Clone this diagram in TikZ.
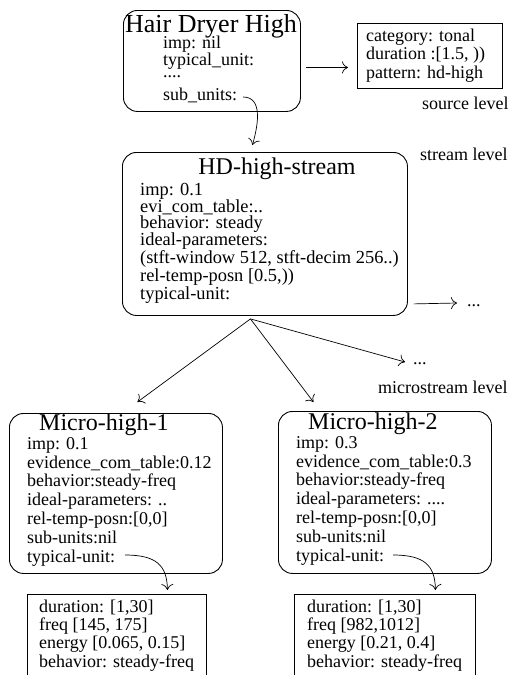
\documentclass[tikz,border=0pt]{standalone}
\usepackage{fontspec}
\setmainfont{Liberation Serif}
\usetikzlibrary{arrows.meta}

\begin{document}
\begin{tikzpicture}[x=1pt, y=-1pt,
  unitbox/.style={draw, rounded corners=14pt, line width=0.9pt, anchor=north west, inner sep=0pt},
  featbox/.style={draw, line width=0.9pt, anchor=north west, inner sep=0pt},
  title/.style={inner sep=0pt, anchor=base, font=\fontsize{#1}{#1}\selectfont},
  body/.style={inner sep=0pt, anchor=base west, align=left, font=\fontsize{18}{#1}\selectfont},
  lvl/.style={inner sep=0pt, anchor=base west, font=\fontsize{18}{18}\selectfont},
  arr/.style={-{To[length=6pt,width=12pt]}, line width=0.7pt}]

  % Fix the page and cut off what hangs below it
  \useasboundingbox (0,0) rectangle (510,675);
  \clip (0,0) rectangle (510,675);

  % Draw the source unit (body nodes sit on their last line)
  \node[unitbox, minimum width=177pt, minimum height=101pt] (src) at (123,10) {};
  \node[title=26] (srctitle) at (211,32) {Hair Dryer High};
  \node[body=17] (srcbody) at (163,100) {imp: nil\\typical\_unit:\\[-5pt]....\\[6pt]sub\_units:};
  \coordinate (srcsub) at (243,97);

  % Draw the source pattern
  \node[featbox, minimum width=145pt, minimum height=65pt] (pat) at (357,23) {};
  \node[body=18.3] (patbody) at (366,78) {category: tonal\\duration :[1.5, ))\\pattern: hd-high};

  % Draw the level names
  \node[lvl] (srclvl) at (422,109) {source level};
  \node[lvl] (strlvl) at (420,160) {stream level};
  \node[lvl] (miclvl) at (378,393) {microstream level};

  % Draw the stream unit
  \node[unitbox, minimum width=285pt, minimum height=163pt] (stream) at (122,152) {};
  \node[title=24] (streamtitle) at (277,174) {HD-high-stream};
  \node[body=15.3, font=\fontsize{18.4}{15.3}\selectfont] (streambody) at (140,299) {imp: 0.1\\evi\_com\_table:..\\behavior: steady\\ideal-parameters:\\(stft-window 512, stft-decim 256..)\\rel-temp-posn [0.5,))\\typical-unit:};
  \node[body=18] (morea) at (467,306) {...};
  \node[body=18] (moreb) at (413,364) {...};

  % Draw the microstream units
  \node[unitbox, minimum width=213pt, minimum height=160pt] (m1) at (9,413) {};
  \node[title=24, anchor=base west] (m1title) at (39,430) {Micro-high-1};
  \node[body=18.8] (m1body) at (27,562) {imp: 0.1\\evidence\_com\_table:0.12\\behavior:steady-freq\\ideal-parameters: ..\\rel-temp-posn:[0,0]\\sub-units:nil\\typical-unit:};
  \coordinate (m1typ) at (125,555);

  \node[unitbox, minimum width=213pt, minimum height=162pt] (m2) at (278,411) {};
  \node[title=24, anchor=base west] (m2title) at (308,429) {Micro-high-2};
  \node[body=18.8] (m2body) at (296,561) {imp: 0.3\\evidence\_com\_table:0.3\\behavior:steady-freq\\ideal-parameters: ....\\rel-temp-posn:[0,0]\\sub-units:nil\\typical-unit:};
  \coordinate (m2typ) at (393,555);

  % Draw the typical units
  \node[featbox, minimum width=179pt, minimum height=100pt] (f1) at (27,594) {};
  \node[body=18.3] (f1body) at (39,667) {duration: [1,30]\\freq [145, 175]\\energy [0.065, 0.15]\\behavior: steady-freq};
  \node[featbox, minimum width=181pt, minimum height=100pt] (f2) at (294,594) {};
  \node[body=18.3] (f2body) at (307,667) {duration: [1,30]\\freq [982,1012]\\energy [0.21, 0.4]\\behavior: steady-freq};

  % Draw the links
  \draw[arr] ([xshift=5pt,yshift=-6.5pt]src.east) -- ([xshift=-9pt,yshift=-11.5pt]pat.west);
  \draw[arr] (srcsub) .. controls (262,97) and (259,122) .. ([xshift=-12.5pt,yshift=7pt]stream.north);
  \draw[arr] ([xshift=6pt,yshift=12pt]stream.south east) -- ([xshift=-10pt,yshift=3pt]morea.base west);
  \coordinate (fork) at ([xshift=-14.5pt,yshift=-3pt]stream.south);
  \draw[arr] (fork) -- ([xshift=21.5pt,yshift=11pt]m1.north);
  \draw[arr] (fork) -- ([xshift=-71.5pt,yshift=9pt]m2.north);
  \draw[arr] (fork) -- ([xshift=-8pt,yshift=2pt]moreb.base west);
  \draw[arr] (m1typ) .. controls (156,555) and (167,565) .. ([xshift=50.5pt,yshift=4pt]f1.north);
  \draw[arr] (m2typ) .. controls (424,555) and (435,565) .. ([xshift=50.5pt,yshift=4pt]f2.north);
\end{tikzpicture}
\end{document}
